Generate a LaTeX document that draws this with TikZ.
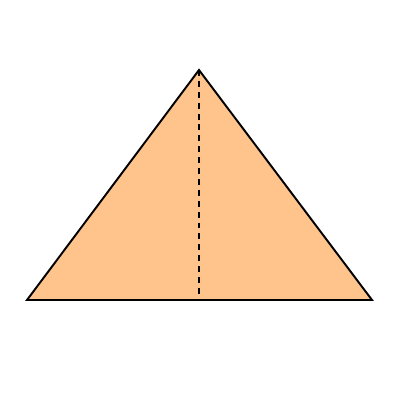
\documentclass[tikz,border=0pt]{standalone}
\begin{document}
\begin{tikzpicture}[x=0.02cm,y=-0.02cm,
  tri/.style={draw=black,line width=1.1pt,fill=triorange,line join=miter},
  heightline/.style={draw=black,line width=0.8pt,dash pattern=on 3.4pt off 2.8pt}]
\definecolor{triorange}{HTML}{FFC48C}
\useasboundingbox (0,0) rectangle (400,400);
\coordinate (A) at (27,300);
\coordinate (B) at (372,300);
\coordinate (C) at (199,70);
\coordinate (H) at (199,300);
\path[tri] (A) -- (B) -- (C) -- cycle;
\draw[heightline] (C) -- (H);
\end{tikzpicture}
\end{document}
